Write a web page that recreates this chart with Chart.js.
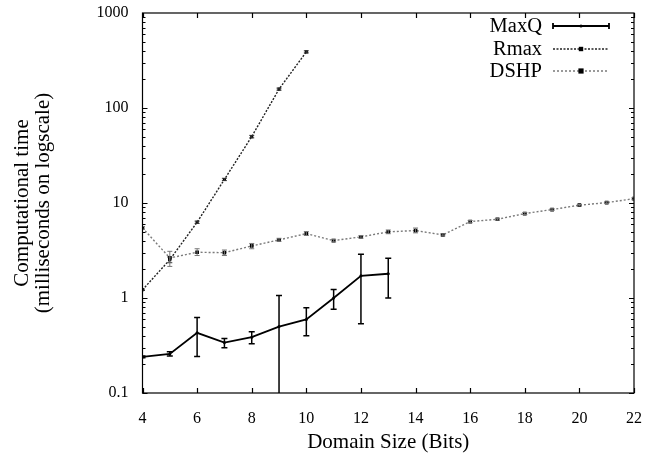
<!DOCTYPE html>
<html>
<head>
<meta charset="utf-8">
<title>Computational time vs domain size</title>
<script src="https://cdn.jsdelivr.net/npm/chart.js@4/dist/chart.umd.min.js"></script>
<style>
  html, body { margin: 0; padding: 0; background: #fff; }
  #wrap { width: 661px; height: 459px; position: relative; }
</style>
</head>
<body>
<div id="wrap"><canvas id="timeChart" width="661" height="459"></canvas></div>
<script>
// =========================================================
// DATA
// =========================================================
const maxqBits = [4, 5, 6, 7, 8, 9, 10, 11, 12, 13];
const maxqTime = [0.24, 0.258, 0.43, 0.34, 0.387, 0.50, 0.594, 1.0, 1.71, 1.80];
const maxqLow  = [0.235, 0.245, 0.242, 0.30, 0.33, 0.05, 0.40, 0.76, 0.535, 1.0];
const maxqHigh = [0.245, 0.272, 0.624, 0.374, 0.44, 1.06, 0.79, 1.23, 2.88, 2.62];

const rmaxBits = [4, 5, 6, 7, 8, 9, 10];
const rmaxTime = [1.22, 2.53, 6.27, 17.7, 50, 158, 390];
const rmaxLow  = [1.2, 2.35, 6.1, 17.2, 48.5, 154, 380];
const rmaxHigh = [1.24, 2.7, 6.45, 18.2, 51.5, 162, 400];

const dshpBits = [4, 5, 6, 7, 8, 9, 10, 11, 12, 13, 14, 15, 16, 17, 18, 19, 20, 21, 22];
const dshpTime = [5.47, 2.64, 3.03, 3.0, 3.53, 4.09, 4.76, 4.02, 4.40, 4.97, 5.13, 4.61, 6.38, 6.74, 7.74, 8.53, 9.48, 10.1, 11.1];
const dshpLow  = [5.3, 2.15, 2.8, 2.8, 3.3, 3.95, 4.55, 3.9, 4.25, 4.75, 4.85, 4.5, 6.2, 6.6, 7.55, 8.35, 9.3, 9.9, 10.8];
const dshpHigh = [5.65, 3.1, 3.3, 3.2, 3.75, 4.25, 5.0, 4.15, 4.55, 5.2, 5.45, 4.75, 6.55, 6.9, 7.95, 8.7, 9.65, 10.3, 11.4];

const xTickValues = [4, 6, 8, 10, 12, 14, 16, 18, 20, 22];
const yTickValues = [0.1, 1, 10, 100, 1000];
const yTickLabels = ["0.1", "1", "10", "100", "1000"];

const seriesNames = ["MaxQ", "Rmax", "DSHP"];

// =========================================================
// HELPERS
// =========================================================
const SERIF = "'Liberation Serif', 'Times New Roman', serif";

function toPoints(xs, ys) {
  return xs.map((x, i) => ({ x: x, y: ys[i] }));
}

// error bar ranges, indexed like the datasets
const errorRanges = [
  { xs: maxqBits, lo: maxqLow, hi: maxqHigh, color: "#000", width: 1.5, cap: 3 },
  { xs: rmaxBits, lo: rmaxLow, hi: rmaxHigh, color: "#333", width: 1, cap: 2.5 },
  { xs: dshpBits, lo: dshpLow, hi: dshpHigh, color: "#777", width: 1, cap: 2.5 }
];

// keep tick label overflow from pushing the plot area around
function fixPadding(scale) {
  scale.paddingTop = 0;
  scale.paddingBottom = 0;
  scale.paddingLeft = 0;
  scale.paddingRight = 0;
}

// =========================================================
// PLUGIN: error bars
// =========================================================
const errorBarPlugin = {
  id: "errorBars",
  afterDatasetsDraw(chart) {
    const { ctx, chartArea, scales } = chart;
    ctx.save();
    ctx.beginPath();
    ctx.rect(chartArea.left, chartArea.top, chartArea.right - chartArea.left, chartArea.bottom - chartArea.top);
    ctx.clip();

    errorRanges.forEach(r => {
      ctx.strokeStyle = r.color;
      ctx.lineWidth = r.width;
      r.xs.forEach((x, i) => {
        const px = scales.x.getPixelForValue(x);
        const pLo = scales.y.getPixelForValue(r.lo[i]);
        const pHi = scales.y.getPixelForValue(r.hi[i]);
        ctx.beginPath();
        ctx.moveTo(px, pLo);
        ctx.lineTo(px, pHi);
        ctx.moveTo(px - r.cap, pLo);
        ctx.lineTo(px + r.cap, pLo);
        ctx.moveTo(px - r.cap, pHi);
        ctx.lineTo(px + r.cap, pHi);
        ctx.stroke();
      });
    });
    ctx.restore();
  }
};

// =========================================================
// PLUGIN: gnuplot style frame + inward ticks
// =========================================================
const framePlugin = {
  id: "frame",
  afterDraw(chart) {
    const { ctx, chartArea: a, scales } = chart;
    ctx.save();
    ctx.strokeStyle = "#000";
    ctx.lineWidth = 1.2;
    ctx.strokeRect(a.left, a.top, a.right - a.left, a.bottom - a.top);

    ctx.beginPath();
    // x ticks, bottom and top
    xTickValues.forEach(v => {
      const px = Math.round(scales.x.getPixelForValue(v)) + 0.5;
      ctx.moveTo(px, a.bottom);
      ctx.lineTo(px, a.bottom - 5);
      ctx.moveTo(px, a.top);
      ctx.lineTo(px, a.top + 5);
    });
    // y ticks (major + minor), left and right
    for (let d = -1; d < 3; d++) {
      for (let m = 1; m <= 9; m++) {
        const v = m * Math.pow(10, d);
        const py = Math.round(scales.y.getPixelForValue(v)) + 0.5;
        const len = m === 1 ? 5 : 3;
        ctx.moveTo(a.left, py);
        ctx.lineTo(a.left + len, py);
        ctx.moveTo(a.right, py);
        ctx.lineTo(a.right - len, py);
      }
    }
    ctx.stroke();
    ctx.restore();
  }
};

// =========================================================
// PLUGIN: legend (text left of sample, top right)
// =========================================================
const legendPlugin = {
  id: "sampleLegend",
  afterDraw(chart) {
    const { ctx } = chart;
    const textRight = 542;
    const lineStart = 553;
    const lineEnd = 609;
    const rows = [26, 49, 71];

    ctx.save();
    ctx.font = "20.5px " + SERIF;
    ctx.fillStyle = "#000";
    ctx.textAlign = "right";
    ctx.textBaseline = "middle";

    chart.data.datasets.forEach((ds, i) => {
      const y = rows[i];
      ctx.fillText(seriesNames[i], textRight, y + 1);

      ctx.strokeStyle = ds.borderColor;
      ctx.lineWidth = ds.borderWidth;
      ctx.setLineDash(ds.borderDash || []);
      ctx.beginPath();
      ctx.moveTo(lineStart, y);
      ctx.lineTo(lineEnd, y);
      ctx.stroke();
      ctx.setLineDash([]);

      if (i === 0) {
        ctx.beginPath();
        ctx.moveTo(lineStart, y - 3);
        ctx.lineTo(lineStart, y + 3);
        ctx.moveTo(lineEnd, y - 3);
        ctx.lineTo(lineEnd, y + 3);
        ctx.stroke();
      }

      const mid = (lineStart + lineEnd) / 2;
      const r = ds.pointRadius;
      ctx.fillStyle = ds.pointBackgroundColor;
      if (ds.pointStyle === "rect") {
        ctx.fillRect(mid - r, y - r, 2 * r, 2 * r);
      } else {
        ctx.beginPath();
        ctx.arc(mid, y, r, 0, Math.PI * 2);
        ctx.fill();
      }
      ctx.fillStyle = "#000";
    });
    ctx.restore();
  }
};

// =========================================================
// BUILD CHART
// =========================================================
function buildChart() {
  const canvas = document.getElementById("timeChart");

  new Chart(canvas, {
    type: "line",
    data: {
      datasets: [
        {
          label: seriesNames[0],
          data: toPoints(maxqBits, maxqTime),
          borderColor: "#000",
          borderWidth: 1.8,
          pointStyle: "circle",
          pointRadius: 1.5,
          pointBackgroundColor: "#000",
          pointBorderWidth: 0
        },
        {
          label: seriesNames[1],
          data: toPoints(rmaxBits, rmaxTime),
          borderColor: "#222",
          borderWidth: 1.4,
          borderDash: [2, 1.5],
          pointStyle: "rect",
          pointRadius: 2.2,
          pointBackgroundColor: "#000",
          pointBorderWidth: 0
        },
        {
          label: seriesNames[2],
          data: toPoints(dshpBits, dshpTime),
          borderColor: "#7a7a7a",
          borderWidth: 1.4,
          borderDash: [2, 2],
          pointStyle: "rect",
          pointRadius: 2.6,
          pointBackgroundColor: "#000",
          pointBorderWidth: 0
        }
      ]
    },
    options: {
      responsive: false,
      animation: false,
      layout: { padding: { top: 13, right: 27, bottom: 0, left: 0 } },
      plugins: {
        legend: { display: false },
        tooltip: { enabled: false }
      },
      elements: { line: { tension: 0, fill: false } },
      scales: {
        x: {
          type: "linear",
          min: 4,
          max: 22,
          grid: { display: false, drawTicks: false },
          border: { display: false },
          afterBuildTicks: scale => {
            scale.ticks = xTickValues.map(v => ({ value: v }));
          },
          afterFit: scale => {
            scale.height = 66;
            fixPadding(scale);
          },
          ticks: {
            color: "#000",
            padding: 16.5,
            maxRotation: 0,
            font: { family: SERIF, size: 16 },
            callback: v => String(v)
          },
          title: {
            display: true,
            text: "Domain Size (Bits)",
            color: "#000",
            font: { family: SERIF, size: 21, lineHeight: 1 },
            padding: { top: 0, bottom: 6 }
          }
        },
        y: {
          type: "logarithmic",
          min: 0.1,
          max: 1000,
          grid: { display: false, drawTicks: false },
          border: { display: false },
          afterBuildTicks: scale => {
            scale.ticks = yTickValues.map(v => ({ value: v }));
          },
          afterFit: scale => {
            scale.width = 142.5;
            fixPadding(scale);
          },
          ticks: {
            color: "#000",
            padding: 14,
            font: { family: SERIF, size: 16 },
            callback: v => yTickLabels[yTickValues.indexOf(v)] ?? ""
          },
          title: {
            display: true,
            text: ["Computational time", "(milliseconds on logscale)"],
            color: "#000",
            font: { family: SERIF, size: 21, lineHeight: 1 },
            padding: { top: 11.5, bottom: 0 }
          }
        }
      }
    },
    plugins: [errorBarPlugin, framePlugin, legendPlugin]
  });
}

window.addEventListener("load", buildChart);
</script>
</body>
</html>
